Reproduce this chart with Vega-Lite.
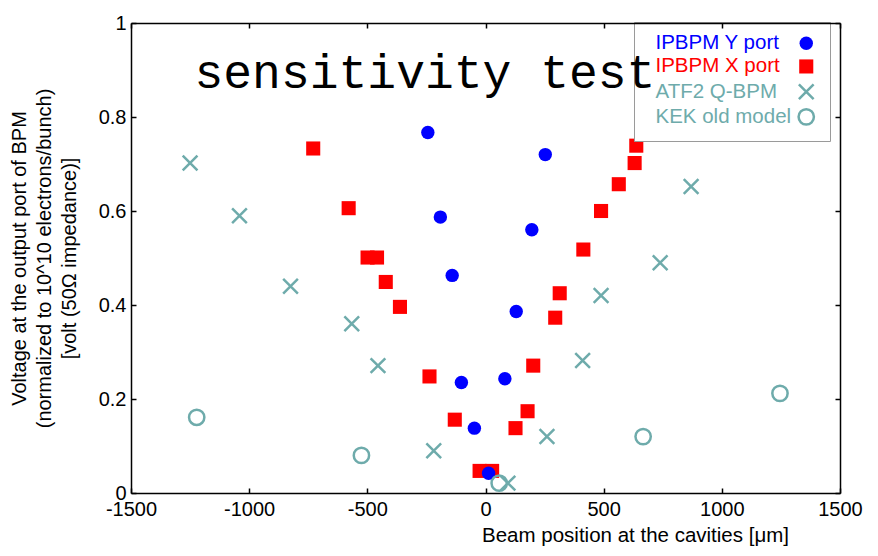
{
  "$schema": "https://vega.github.io/schema/vega-lite/v6.json",
  "autosize": {"type": "none"},
  "width": 709,
  "height": 470,
  "padding": {"left": 131, "top": 23, "right": 38, "bottom": 63},
  "background": "white",
  "config": {"view": {"stroke": null}},
  "title": {
    "text": "Sensitivity response",
    "anchor": "start",
    "frame": "group",
    "font": "Liberation Serif",
    "fontSize": 46,
    "fontWeight": "bold",
    "color": "black",
    "baseline": "alphabetic",
    "offset": 27,
    "dx": 394
  },
  "data": {
    "values": [
      {"series": "IPBPM X port", "x": -729, "y": 0.733},
      {"series": "IPBPM X port", "x": -579, "y": 0.606},
      {"series": "IPBPM X port", "x": -499, "y": 0.501},
      {"series": "IPBPM X port", "x": -459, "y": 0.501},
      {"series": "IPBPM X port", "x": -422, "y": 0.449},
      {"series": "IPBPM X port", "x": -362, "y": 0.396},
      {"series": "IPBPM X port", "x": -237, "y": 0.248},
      {"series": "IPBPM X port", "x": -130, "y": 0.156},
      {"series": "IPBPM X port", "x": -25, "y": 0.047},
      {"series": "IPBPM X port", "x": 28, "y": 0.047},
      {"series": "IPBPM X port", "x": 127, "y": 0.138},
      {"series": "IPBPM X port", "x": 178, "y": 0.174},
      {"series": "IPBPM X port", "x": 202, "y": 0.271},
      {"series": "IPBPM X port", "x": 295, "y": 0.373},
      {"series": "IPBPM X port", "x": 314, "y": 0.425},
      {"series": "IPBPM X port", "x": 414, "y": 0.518},
      {"series": "IPBPM X port", "x": 489, "y": 0.6},
      {"series": "IPBPM X port", "x": 564, "y": 0.657},
      {"series": "IPBPM X port", "x": 631, "y": 0.702},
      {"series": "IPBPM X port", "x": 638, "y": 0.739},
      {"series": "IPBPM Y port", "x": -244, "y": 0.767},
      {"series": "IPBPM Y port", "x": -191, "y": 0.587},
      {"series": "IPBPM Y port", "x": -141, "y": 0.463},
      {"series": "IPBPM Y port", "x": -102, "y": 0.235},
      {"series": "IPBPM Y port", "x": -47, "y": 0.138},
      {"series": "IPBPM Y port", "x": 13, "y": 0.042},
      {"series": "IPBPM Y port", "x": 82, "y": 0.243},
      {"series": "IPBPM Y port", "x": 130, "y": 0.386},
      {"series": "IPBPM Y port", "x": 196, "y": 0.56},
      {"series": "IPBPM Y port", "x": 253, "y": 0.72},
      {"series": "ATF2 Q-BPM", "x": -1250, "y": 0.702},
      {"series": "ATF2 Q-BPM", "x": -1041, "y": 0.59},
      {"series": "ATF2 Q-BPM", "x": -825, "y": 0.44},
      {"series": "ATF2 Q-BPM", "x": -566, "y": 0.36},
      {"series": "ATF2 Q-BPM", "x": -455, "y": 0.271},
      {"series": "ATF2 Q-BPM", "x": -219, "y": 0.09},
      {"series": "ATF2 Q-BPM", "x": 95, "y": 0.021},
      {"series": "ATF2 Q-BPM", "x": 260, "y": 0.12},
      {"series": "ATF2 Q-BPM", "x": 411, "y": 0.282},
      {"series": "ATF2 Q-BPM", "x": 489, "y": 0.42},
      {"series": "ATF2 Q-BPM", "x": 739, "y": 0.49},
      {"series": "ATF2 Q-BPM", "x": 870, "y": 0.652},
      {"series": "KEK old model", "x": -1222, "y": 0.161},
      {"series": "KEK old model", "x": -525, "y": 0.08},
      {"series": "KEK old model", "x": 58, "y": 0.021},
      {"series": "KEK old model", "x": 667, "y": 0.12},
      {"series": "KEK old model", "x": 1246, "y": 0.212}
    ]
  },
  "layer": [
    {
      "mark": {"type": "point", "opacity": 1, "strokeWidth": 2.5},
      "encoding": {
        "x": {
          "field": "x", "type": "quantitative",
          "scale": {"domain": [-1500, 1500], "nice": false, "zero": false},
          "axis": {
            "orient": "bottom",
            "values": [-1500, -1000, -500, 0, 500, 1000, 1500],
            "labelExpr": "'' + datum.value",
            "labelFlush": false,
            "grid": false,
            "domainColor": "black", "domainWidth": 1.5,
            "tickColor": "black", "tickWidth": 1.5, "tickSize": -5,
            "labelFont": "Liberation Sans", "labelFontSize": 20, "labelColor": "black",
            "labelPadding": 11,
            "title": "Beam position at the cavities [μm]",
            "titleFont": "Liberation Sans", "titleFontSize": 20.5, "titleFontWeight": "normal", "titleColor": "black",
            "titleX": 504, "titleY": 48, "titleBaseline": "alphabetic", "titleAlign": "center"
          }
        },
        "y": {
          "field": "y", "type": "quantitative",
          "scale": {"domain": [0, 1], "nice": false},
          "axis": {
            "orient": "left",
            "values": [0, 0.2, 0.4, 0.6, 0.8, 1],
            "format": "~g",
            "labelFlush": false,
            "grid": false,
            "domainColor": "black", "domainWidth": 1.5,
            "tickColor": "black", "tickWidth": 1.5, "tickSize": -5,
            "labelFont": "Liberation Sans", "labelFontSize": 20, "labelColor": "black",
            "labelPadding": 10,
            "title": ["Voltage at the output port of BPM", "(normalized to 10^10 electrons/bunch)", "[volt (50Ω impedance)]"],
            "titleFont": "Liberation Sans", "titleFontSize": 20, "titleFontWeight": "normal", "titleColor": "black",
            "titleLineHeight": 25,
            "titleAngle": -90,
            "titleX": -102, "titleY": 235, "titleBaseline": "bottom", "titleAlign": "center"
          }
        },
        "fill": {
          "field": "series", "type": "nominal",
          "scale": {
            "domain": ["IPBPM Y port", "IPBPM X port", "ATF2 Q-BPM", "KEK old model"],
            "range": ["#0000ff", "#ff0000", "transparent", "transparent"]
          },
          "legend": {
            "title": null,
            "orient": "none",
            "legendX": 503,
            "legendY": -1,
            "padding": 11,
            "strokeColor": "#9a9a9a",
            "fillColor": "white",
            "labelFont": "Liberation Sans",
            "labelFontSize": 20.5,
            "labelColor": {"expr": "datum.value === 'IPBPM Y port' ? '#0000ff' : datum.value === 'IPBPM X port' ? '#ff0000' : '#6eabab'"},
            "labelOffset": -161,
            "symbolOffset": 151,
            "rowPadding": -0.8,
            "symbolStrokeWidth": 2.5
          }
        },
        "stroke": {
          "field": "series", "type": "nominal",
          "scale": {
            "domain": ["IPBPM Y port", "IPBPM X port", "ATF2 Q-BPM", "KEK old model"],
            "range": ["transparent", "transparent", "#6eabab", "#6eabab"]
          }
        },
        "size": {
          "field": "series", "type": "nominal",
          "scale": {
            "domain": ["IPBPM Y port", "IPBPM X port", "ATF2 Q-BPM", "KEK old model"],
            "range": [180, 235, 190, 135]
          }
        },
        "shape": {
          "field": "series", "type": "nominal",
          "scale": {
            "domain": ["IPBPM Y port", "IPBPM X port", "ATF2 Q-BPM", "KEK old model"],
            "range": ["circle", "square", "M-1,-1L1,1M-1,1L1,-1", "circle"]
          }
        }
      }
    },
    {
      "mark": {"type": "point", "opacity": 0},
      "encoding": {
        "x": {
          "field": "x", "type": "quantitative",
          "scale": {"domain": [-1500, 1500], "nice": false, "zero": false},
          "axis": {
            "orient": "top",
            "values": [-1500, -1000, -500, 0, 500, 1000, 1500],
            "labels": false,
            "grid": false,
            "zindex": 2,
            "domainColor": "black", "domainWidth": 1.5,
            "tickColor": "black", "tickWidth": 1.5, "tickSize": -5,
            "title": "sensitivity test",
            "titleFont": "Liberation Mono", "titleFontSize": 48, "titleFontWeight": "normal", "titleColor": "black",
            "titleAngle": 0,
            "titleX": 63, "titleY": 64, "titleBaseline": "alphabetic", "titleAlign": "left"
          }
        },
        "y": {
          "field": "y", "type": "quantitative",
          "scale": {"domain": [0, 1], "nice": false},
          "axis": {
            "orient": "right",
            "values": [0, 0.2, 0.4, 0.6, 0.8, 1],
            "labels": false,
            "grid": false,
            "domainColor": "black", "domainWidth": 1.5,
            "tickColor": "black", "tickWidth": 1.5, "tickSize": -5,
            "title": null
          }
        }
      }
    }
  ],
  "resolve": {"axis": {"x": "independent", "y": "independent"}}
}
